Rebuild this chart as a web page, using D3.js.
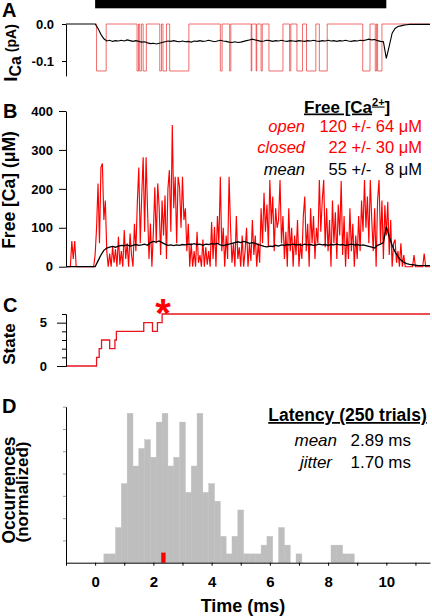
<!DOCTYPE html>
<html><head><meta charset="utf-8">
<script src="https://cdn.jsdelivr.net/npm/d3@7"></script>
<style>body{margin:0;background:#fff}</style>
</head><body>
<svg id="c" width="432" height="616" xmlns="http://www.w3.org/2000/svg"></svg>
<script>
// ---------------- DATA ----------------
const timeDomain = [-1, 11.5];
const stimulus = [0, 10];
const timeTicks = [-1,0,1,2,3,4,5,6,7,8,9,10,11];
const timeLabels = [0,2,4,6,8,10];

// Panel A: single channel openings (ms) and open level (pA)
const openStart = [0.05,1.44,1.53,1.65,2.22,2.33,2.56,4.30,4.62,5.36,5.53,5.70,5.97,6.68,6.93,7.26,7.70,9.19,9.62,9.70];
const openEnd   = [0.38,1.49,1.59,1.76,2.28,2.45,3.22,4.36,4.66,5.38,5.55,5.74,6.45,6.72,7.12,7.58,7.97,9.44,9.66,9.85];
const closedLevel = 0, openLevel = -0.127;
const currentTicks = [0, -0.1];

// Mean current, sampled every 0.1 ms from -1.0 ms
const meanCurrentT0 = -1.0, meanCurrentDt = 0.1;
const meanCurrent = [0,0,0,0,0,0,0,0,0,0,
 0,-0.012,-0.028,-0.040,-0.046,-0.044,-0.047,-0.045,-0.046,-0.044,
 -0.046,-0.043,-0.045,-0.047,-0.045,-0.047,-0.049,-0.048,-0.051,-0.053,
 -0.052,-0.054,-0.052,-0.050,-0.048,-0.046,-0.047,-0.045,-0.047,-0.048,
 -0.046,-0.048,-0.047,-0.049,-0.046,-0.047,-0.045,-0.047,-0.046,-0.044,
 -0.046,-0.048,-0.046,-0.044,-0.046,-0.047,-0.049,-0.050,-0.048,-0.050,
 -0.049,-0.047,-0.045,-0.043,-0.041,-0.043,-0.045,-0.047,-0.046,-0.044,
 -0.045,-0.047,-0.045,-0.046,-0.044,-0.046,-0.047,-0.045,-0.046,-0.047,
 -0.045,-0.046,-0.047,-0.045,-0.046,-0.044,-0.046,-0.047,-0.045,-0.046,
 -0.044,-0.046,-0.045,-0.047,-0.045,-0.046,-0.044,-0.046,-0.047,-0.045,
 -0.046,-0.044,-0.045,-0.043,-0.041,-0.043,-0.042,-0.045,-0.047,-0.048,
 -0.093,-0.060,-0.025,-0.012,-0.007,-0.005,-0.003,-0.002,-0.001,-0.001,
 -0.001,-0.001,-0.001,-0.001,-0.001,-0.001];

// Panel B: free Ca at the channel (uM), sampled every 0.05 ms from -1.0 ms
const caT0 = -1.0, caDt = 0.05;
const caLocal = [0,0,0,0,66,20,66,0,0,0, 0,0,0,0,0,0,0,0,0,0,
 30,100,214,60,255,265,120,170,40,0,
 34,0,51,10,45,0,77,5,40,0,
 94,20,60,0,85,30,0,110,40,166,
 255,60,183,281,90,281,149,20,111,0,
 90,204,60,214,150,30,170,80,183,20,
 200,248,90,364,150,231,60,231,204,100,
 231,120,150,40,110,0,60,0,40,0,
 90,10,30,0,70,0,50,5,40,0,
 115,20,102,0,130,60,231,40,100,0,
 80,20,231,102,10,60,0,130,20,50,
 0,80,0,40,100,0,60,15,120,30,
 80,0,60,10,150,60,190,90,160,50,
 223,110,180,40,150,100,120,223,60,130,
 20,90,0,150,40,100,0,80,30,120,
 0,60,20,130,180,40,110,0,150,60,
 130,20,100,60,223,90,170,223,50,150,
 40,120,0,170,60,140,20,160,80,220,
 30,130,0,90,20,150,40,110,0,80,
 20,130,40,170,90,223,100,180,60,223,
 120,40,150,0,170,223,60,170,20,158,
 80,167,30,120,0,60,70,10,40,0,
 60,0,30,0,0,0,0,0,0,30,
 0,0,0,0,0,0,34,0,0,0,0];
// Mean free Ca (uM), sampled every 0.1 ms from -1.0 ms
const caMeanT0 = -1.0, caMeanDt = 0.1;
const caMean = [0,0,0,0,0,0,0,0,0,0,
 0,15,30,42,48,50,52,50,53,55,
 54,56,53,55,57,55,56,58,55,62,
 65,63,66,62,58,55,56,54,56,55,
 57,56,58,57,59,57,58,55,58,57,
 59,58,60,56,54,56,58,60,62,64,
 62,65,63,60,62,60,57,55,52,51,
 53,52,55,53,56,55,57,56,58,56,
 57,55,58,56,57,55,56,58,56,57,
 55,57,56,58,56,57,55,56,58,56,
 57,55,56,54,52,50,48,55,58,62,
 103,77,55,38,26,17,11,8,6,5,
 4,3,3,3,3,3];
const caTicks = [0,100,200,300,400];

// Panel C: channel state trajectory
const stateTimes  = [-1, 0.05, 0.14, 0.22, 0.50, 0.68, 0.73, 1.67, 1.97, 2.14, 2.30, 11.5];
const stateValues = [ 0,    1,    2,    3,    2,    3,    4,    5,    4,    5,    6,    6];
const stateMajorTicks = [0,5];
const stateMinorTicks = [1,2,3,4,6];
const releaseTime = 2.33;

// Panel D: latency histogram (0.2 ms bins, left edges) and counts
const binLeft = [0.3,0.5,0.7,0.9,1.1,1.3,1.5,1.7,1.9,2.1,2.3,2.5,2.7,2.9,3.1,3.3,3.5,3.7,3.9,4.1,4.3,4.5,4.7,4.9,5.1,5.3,5.5,5.7,5.9,6.1,6.3,6.5,6.7,6.9,7.1,7.3,7.5,7.7,7.9,8.1,8.3,8.5,8.7];
const binCount = [1,1,4,9,17,11,13,14,12,16,17,11,12,16,8,11,17,8,9,7,3,1,3,6,1,1,1,2,3,0,4,2,0,1,0,0,0,0,0,2,2,1,1];
const binWidth = 0.2;
const thisTrial = {start: 2.27, end: 2.42, height: 1.15};
const occMax = 17.75;

// ---------------- DRAW ----------------
const FONT = '"Liberation Sans", Arial, Helvetica, sans-serif';
const svg = d3.select("#c").attr("font-family", FONT);
const x = d3.scaleLinear().domain(timeDomain).range([66, 430]);

function styleAxis(g, fs) {
  g.attr("font-family", FONT).attr("font-size", fs).attr("font-weight", "bold");
  g.selectAll("text").attr("fill", "#000");
  g.select(".domain").attr("stroke", "#000").attr("stroke-width", 1);
  g.selectAll(".tick line").attr("stroke", "#000");
}

// ---- Panel A ----
const yA = d3.scaleLinear().domain([-0.14, 0]).range([75.8, 24]);
svg.append("rect").attr("x", x(stimulus[0])).attr("y", 0)
   .attr("width", x(stimulus[1]) - x(stimulus[0])).attr("height", 8.3).attr("fill", "#000");

const chPts = [{t: 0, v: closedLevel}];
openStart.forEach((s, i) => { chPts.push({t: s, v: openLevel}); chPts.push({t: openEnd[i], v: closedLevel}); });
chPts.push({t: timeDomain[1], v: closedLevel});
svg.append("path").datum(chPts)
   .attr("d", d3.line().x(d => x(d.t)).y(d => yA(d.v)).curve(d3.curveStepAfter))
   .attr("fill", "none").attr("stroke", "#ee3b3b").attr("stroke-opacity", 0.75).attr("stroke-width", 1);
svg.append("path").datum(meanCurrent)
   .attr("d", d3.line().x((d, i) => x(meanCurrentT0 + i * meanCurrentDt)).y(d => yA(d)))
   .attr("fill", "none").attr("stroke", "#000").attr("stroke-width", 1.1);
const axA = svg.append("g").attr("transform", "translate(66,0)")
   .call(d3.axisLeft(yA).tickValues(currentTicks).tickFormat(d => d.toFixed(1)).tickSize(4).tickSizeOuter(0).tickPadding(8));
styleAxis(axA, 13);

// ---- Panel B ----
const yB = d3.scaleLinear().domain([0, 400]).range([266.7, 111]);
svg.append("path").datum(caLocal)
   .attr("d", d3.line().x((d, i) => x(caT0 + i * caDt)).y(d => yB(d)))
   .attr("fill", "none").attr("stroke", "#ff0000").attr("stroke-width", 1.15).attr("stroke-linejoin", "miter");
svg.append("path").datum(caMean)
   .attr("d", d3.line().x((d, i) => x(caMeanT0 + i * caMeanDt)).y(d => yB(d)))
   .attr("fill", "none").attr("stroke", "#000").attr("stroke-width", 1.3);
const axB = svg.append("g").attr("transform", "translate(66,0)")
   .call(d3.axisLeft(yB).tickValues(caTicks).tickFormat(d3.format("d")).tickSize(7).tickSizeOuter(0).tickPadding(6));
styleAxis(axB, 13);

// legend B
const tB = svg.append("text").attr("x", 304).attr("y", 112.5).attr("font-size", 17).attr("font-weight", "bold")
   .attr("text-decoration", "underline");
tB.append("tspan").text("Free [Ca");
tB.append("tspan").attr("font-size", 11).attr("dy", -7).text("2+");
tB.append("tspan").attr("dy", 7).text("]");
const legB = [
  {lab: "open", val: "120 +/- 64 \u03bcM", col: "#ff0000", y: 131.5},
  {lab: "closed", val: "22 +/- 30 \u03bcM", col: "#ff0000", y: 153.3},
  {lab: "mean", val: "55 +/-   8 \u03bcM", col: "#000", y: 175}
];
legB.forEach(d => {
  svg.append("text").attr("x", 305).attr("y", d.y).attr("text-anchor", "end").attr("font-size", 16.5)
     .attr("font-style", "italic").attr("fill", d.col).text(d.lab);
  svg.append("text").attr("x", 422).attr("y", d.y).attr("text-anchor", "end").attr("font-size", 16.5)
     .attr("fill", d.col).style("white-space", "pre").text(d.val);
});

// ---- Panel C ----
const yC = d3.scaleLinear().domain([0, 6]).range([366, 314]);
const stPts = stateTimes.map((t, i) => ({t, v: stateValues[i]}));
svg.append("path").datum(stPts)
   .attr("d", d3.line().x(d => x(d.t)).y(d => yC(d.v)).curve(d3.curveStepAfter))
   .attr("fill", "none").attr("stroke", "#e8141e").attr("stroke-width", 1.3);
const axC = svg.append("g").attr("transform", "translate(66,0)")
   .call(d3.axisLeft(yC).tickValues(stateMajorTicks).tickFormat(d3.format("d")).tickSize(9).tickSizeOuter(0).tickPadding(10));
styleAxis(axC, 13);
const axC2 = svg.append("g").attr("transform", "translate(66,0)")
   .call(d3.axisLeft(yC).tickValues(stateMinorTicks).tickSize(4).tickSizeOuter(0).tickFormat(""));
styleAxis(axC2, 13);
svg.append("text").attr("x", x(releaseTime)).attr("y", 327).attr("text-anchor", "middle")
   .attr("font-size", 40).attr("font-weight", "bold").attr("fill", "#ff0000").text("*");

// ---- Panel D ----
const yD = d3.scaleLinear().domain([0, occMax]).range([562.7, 406.7]);
svg.append("g").selectAll("rect").data(binLeft.map((b, i) => ({b, c: binCount[i]})).filter(d => d.c > 0))
   .join("rect")
   .attr("x", d => x(d.b)).attr("width", d => x(d.b + binWidth) - x(d.b))
   .attr("y", d => yD(d.c)).attr("height", d => yD(0) - yD(d.c))
   .attr("fill", "#bebebe").attr("stroke", "#bebebe").attr("stroke-width", 0.4);
svg.append("rect").attr("x", x(thisTrial.start)).attr("width", x(thisTrial.end) - x(thisTrial.start))
   .attr("y", yD(thisTrial.height)).attr("height", yD(0) - yD(thisTrial.height)).attr("fill", "#ff0000");
const axDy = svg.append("g").attr("transform", "translate(66,0)")
   .call(d3.axisLeft(yD).tickValues(d3.range(1, 8).map(i => i * occMax / 7)).tickSize(3).tickSizeOuter(0).tickFormat(""));
styleAxis(axDy, 13);
axDy.selectAll(".tick line").attr("stroke", "#999");
const axDx = svg.append("g").attr("transform", "translate(0,562.7)")
   .call(d3.axisBottom(x).tickValues(timeTicks).tickSize(3).tickSizeOuter(0).tickPadding(11)
     .tickFormat(d => timeLabels.includes(d) ? d : ""));
styleAxis(axDx, 15);
svg.append("text").attr("x", 243).attr("y", 611.5).attr("text-anchor", "middle").attr("font-size", 18)
   .attr("font-weight", "bold").text("Time (ms)");

// legend D
svg.append("text").attr("x", 347.5).attr("y", 421).attr("text-anchor", "middle").attr("font-size", 17.5)
   .attr("font-weight", "bold").attr("text-decoration", "underline").text("Latency (250 trials)");
const legD = [{lab: "mean", val: "2.89 ms", y: 446, lx: 337}, {lab: "jitter", val: "1.70 ms", y: 468, lx: 332}];
legD.forEach(d => {
  svg.append("text").attr("x", d.lx).attr("y", d.y).attr("text-anchor", "end").attr("font-size", 17)
     .attr("font-style", "italic").text(d.lab);
  svg.append("text").attr("x", 411).attr("y", d.y).attr("text-anchor", "end").attr("font-size", 17).text(d.val);
});

// ---- panel letters & y labels ----
[["A", 2, 17], ["B", 3, 118], ["C", 3, 312], ["D", 2, 413]].forEach(([t, px, py]) => {
  svg.append("text").attr("x", px).attr("y", py).attr("font-size", 20).attr("font-weight", "bold").text(t);
});
const labA = svg.append("text").attr("transform", "translate(17,53) rotate(-90)").attr("text-anchor", "middle")
   .attr("font-weight", "bold");
labA.append("tspan").attr("font-size", 19).text("I");
labA.append("tspan").attr("font-size", 16).attr("dy", 4).text("Ca");
labA.append("tspan").attr("font-size", 14).attr("dy", -5).text(" (pA)");
function ylab(txt, cx, cy, fs) {
  svg.append("text").attr("transform", `translate(${cx},${cy}) rotate(-90)`).attr("text-anchor", "middle")
     .attr("font-size", fs).attr("font-weight", "bold").text(txt);
}
ylab("Free [Ca] (\u03bcM)", 15, 190, 17.5);
ylab("State", 15, 344, 17);
ylab("Occurrences", 15, 490, 17.5);
ylab("(normalized)", 28, 492, 17);
</script>
</body></html>
